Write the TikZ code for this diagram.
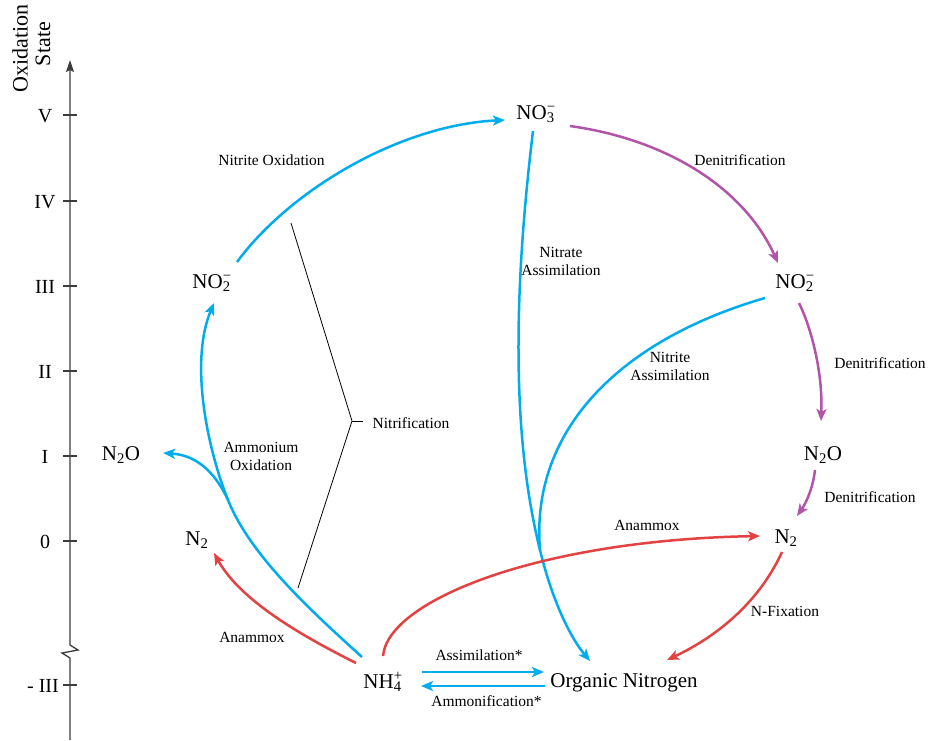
\documentclass[tikz,border=0pt]{standalone}
\usepackage{fontspec}
\setmainfont{Liberation Serif}
\usetikzlibrary{arrows.meta}
\definecolor{cblue}{RGB}{0,172,236}
\definecolor{cpurple}{RGB}{178,84,168}
\definecolor{cred}{RGB}{226,66,66}
\definecolor{caxis}{RGB}{60,60,60}
\newcommand{\subsup}[2]{\makebox[0pt][l]{\textsubscript{#1}}\textsuperscript{#2}}
\begin{document}
\begin{tikzpicture}[x=1pt,y=-1pt,
  big/.style={font=\fontsize{21}{24}\selectfont, inner sep=0pt, anchor=base},
  lbl/.style={font=\fontsize{15.5}{18}\selectfont, align=center, inner sep=0pt, anchor=base},
  axl/.style={font=\fontsize{20}{22}\selectfont, inner sep=0pt, anchor=base},
  flow/.style={line width=2.5pt, -{Stealth[length=12pt,width=10pt,inset=3pt]}},
  plain/.style={line width=2.5pt},
  bluef/.style={flow, cblue},
  purplef/.style={flow, cpurple},
  redf/.style={flow, cred},
  bracket/.style={line width=0.8pt, black},
]
\useasboundingbox (0,0) rectangle (929,740);

% ---------- axis ----------
\coordinate (axbot) at (70,740);
\coordinate (axtop) at (70,60);
\draw[caxis, line width=1.3pt, -{Stealth[length=12pt,width=8pt,inset=2pt]}]
  (axbot) -- (70,658) -- (62,653) -- (78,650) -- (70,645) -- (axtop);
\foreach \yy/\nm/\xx in {115/V/45, 201/IV/45, 286/III/45, 371/II/45, 456/I/45, 541/0/45, 685/- III/43}{
  \draw[caxis, line width=1.1pt] (63,\yy) -- (77,\yy);
  \node[axl] (ax\yy) at (\xx,\yy+7) {\nm};
}
\node[font=\fontsize{22}{24}\selectfont, rotate=90, inner sep=0pt] (oxl) at (20,48) {Oxidation};
\node[font=\fontsize{22}{24}\selectfont, rotate=90, inner sep=0pt] (stl) at (43,44) {State};

% ---------- species ----------
\node[big] (no3) at (536,119) {NO\subsup{3}{−}};
\node[big] (no2l) at (212,288) {NO\subsup{2}{−}};
\node[big] (no2r) at (795,288) {NO\subsup{2}{−}};
\node[big] (n2ol) at (121,460) {N\textsubscript{2}O};
\node[big] (n2l) at (197,545) {N\textsubscript{2}};
\node[big] (n2or) at (823,460) {N\textsubscript{2}O};
\node[big] (n2r) at (786,543) {N\textsubscript{2}};
\node[big] (nh4) at (383,688) {NH\subsup{4}{+}};
\node[big] (org) at (624,687) {Organic Nitrogen};

% ---------- connector end points ----------
\coordinate (no2lS) at (237,262);
\coordinate (no3W) at (505,120);
\coordinate (no3E) at (570,126);
\coordinate (no3S) at (533,131);
\coordinate (no2rN) at (778,263);
\coordinate (no2rS) at (799,303);
\coordinate (no2rW) at (765,298);
\coordinate (n2orN) at (821,421);
\coordinate (n2orS) at (815,470);
\coordinate (n2rN) at (797,516);
\coordinate (n2rW) at (760,536);
\coordinate (n2rS) at (782,552);
\coordinate (orgNE) at (667,660);
\coordinate (orgN) at (590,661);
\coordinate (merge) at (540,550);
\coordinate (nh4A) at (362,657);
\coordinate (nh4B) at (356,663);
\coordinate (nh4C) at (383,656);
\coordinate (branch) at (228,500);
\coordinate (no2lN) at (214,303);
\coordinate (n2olE) at (163,453);
\coordinate (n2lS) at (214,553);
\coordinate (nh4E1) at (422,672);
\coordinate (orgW1) at (544,672);
\coordinate (orgW2) at (545,686);
\coordinate (nh4E2) at (421,686);

% ---------- blue flows ----------
\draw[bluef] (no2lS) .. controls (290,190) and (400,125) .. (no3W);
\draw[bluef] (nh4A) .. controls (310,610) and (250,555) .. (branch)
                  .. controls (206,445) and (190,360) .. (no2lN);
\draw[bluef] (branch) .. controls (214,470) and (195,455) .. (n2olE);
\draw[bluef] (no3S) .. controls (515,280) and (510,430) .. (merge)
                  .. controls (552,600) and (570,637) .. (orgN);
\draw[plain, cblue] (no2rW) .. controls (620,340) and (530,430) .. (merge);
\draw[bluef] (nh4E1) -- (orgW1);
\draw[bluef] (orgW2) -- (nh4E2);

% ---------- purple flows ----------
\draw[purplef] (no3E) .. controls (670,140) and (745,190) .. (no2rN);
\draw[purplef] (no2rS) .. controls (810,325) and (823,370) .. (n2orN);
\draw[purplef] (n2orS) .. controls (813,488) and (806,503) .. (n2rN);

% ---------- red flows ----------
\draw[redf] (n2rS) .. controls (760,600) and (720,635) .. (orgNE);
\draw[redf] (nh4C) .. controls (388,600) and (540,540) .. (n2rW);
\draw[redf] (nh4B) .. controls (300,635) and (240,600) .. (n2lS);

% ---------- nitrification bracket ----------
\coordinate (brT) at (291,223);
\coordinate (brV) at (352,421);
\coordinate (brB) at (298,588);
\coordinate (brE) at (363,421);
\draw[bracket] (brT) -- (brV) -- (brB);
\draw[bracket] (brV) -- (brE);

% ---------- labels ----------
\node[lbl] (lNO) at (271.5,165) {Nitrite Oxidation};
\node[lbl] (lD1) at (740,165) {Denitrification};
\node[lbl] (lNA) at (561,275) {Nitrate\\Assimilation};
\node[lbl] (lNiA) at (670,380) {Nitrite\\Assimilation};
\node[lbl] (lD2) at (880,368) {Denitrification};
\node[lbl] (lD3) at (870,502) {Denitrification};
\node[lbl] (lAR) at (647,530) {Anammox};
\node[lbl] (lNF) at (785,616) {N-Fixation};
\node[lbl] (lAL) at (252,642) {Anammox};
\node[lbl] (lAO) at (261,470) {Ammonium\\Oxidation};
\node[lbl] (lNit) at (411,428) {Nitrification};
\node[lbl] (lAs) at (479,660) {Assimilation*};
\node[lbl] (lAm) at (486.5,706) {Ammonification*};
\end{tikzpicture}
\end{document}
